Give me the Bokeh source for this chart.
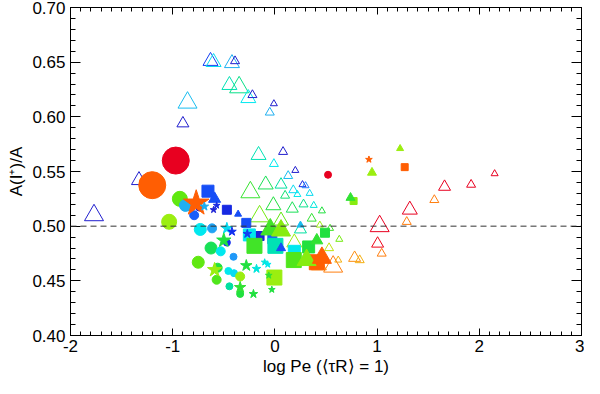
import numpy as np
from bokeh.plotting import figure
from bokeh.models import (ColumnDataSource, LinearAxis, FixedTicker, Span,
                          LinearColorMapper, Range1d, NumeralTickFormatter, CustomLabelingPolicy)
from bokeh.transform import transform
from bokeh.embed import file_html
from bokeh.resources import INLINE

# ---------------- data (log Pe, A(I+)/A, colour parameter, size class) ----------------
open_tri_x = [-1.77, -1.33, -0.90, -0.855, -0.63, -0.60, -0.42, -0.39, -0.445, -0.35, -0.26, -0.22,
              -0.01, -0.05, -0.16, 0.08, -0.01, 0.20, 0.13, 0.27, 0.30, 0.18, 0.22, 0.34, -0.24,
              -0.09, 0.06, 0.10, -0.015, 0.17, 0.28, 0.38, 0.46, 0.36, -0.15, 0.06, 0.44, 0.54,
              0.25, 0.63, 0.19, 0.53, 0.62, 0.57, 0.43, 0.78, 0.83, 1.025, 1.005, 1.045, 1.32,
              1.29, 1.56, 1.66, 1.92, 2.15]
open_tri_y = [0.510, 0.542, 0.594, 0.613, 0.651, 0.650, 0.649, 0.651, 0.629, 0.627, 0.617, 0.620,
              0.612, 0.604, 0.565, 0.568, 0.557, 0.551, 0.546, 0.538, 0.537, 0.533, 0.529, 0.530,
              0.531, 0.538, 0.538, 0.528, 0.519, 0.516, 0.520, 0.519, 0.514, 0.507, 0.509, 0.505,
              0.501, 0.498, 0.497, 0.488, 0.485, 0.480, 0.469, 0.463, 0.464, 0.471, 0.469, 0.500,
              0.484, 0.475, 0.515, 0.504, 0.524, 0.536, 0.538, 0.548]
open_tri_c = [0.05, 0.05, 0.05, 0.30, 0.12, 0.34, 0.28, 0.05, 0.42, 0.46, 0.36, 0.05,
              0.05, 0.28, 0.42, 0.05, 0.36, 0.05, 0.30, 0.08, 0.20, 0.34, 0.36, 0.34, 0.55,
              0.50, 0.44, 0.48, 0.52, 0.50, 0.46, 0.38, 0.52, 0.54, 0.62, 0.60, 0.66, 0.56,
              0.44, 0.62, 0.66, 0.70, 0.80, 0.86, 0.84, 0.84, 0.80, 1.00, 0.99, 0.86, 1.00,
              0.86, 0.86, 1.00, 1.00, 1.00]
open_tri_s = [5, 4, 3, 5, 4, 4, 4, 2, 4, 5, 4, 2,
              1, 2, 4, 2, 2, 1, 2, 1, 1, 2, 1, 1, 5,
              4, 3, 2, 4, 3, 2, 1, 1, 2, 5, 4, 1, 1,
              3, 1, 4, 2, 1, 5, 4, 3, 2, 5, 3, 2, 4,
              2, 2, 3, 2, 1]

circ_x = [-0.97, -1.20, -0.93, -1.035, -0.875, -0.79, -0.74, -0.73, -0.615, -0.625, -0.53,
          -0.405, -0.75, -0.56, -0.455, -0.40, -0.57, -0.34, -0.445, -0.34, -0.47, 0.52]
circ_y = [0.560, 0.5375, 0.525, 0.504, 0.519, 0.510, 0.517, 0.497, 0.498, 0.480, 0.477,
          0.472, 0.467, 0.462, 0.459, 0.457, 0.451, 0.454, 0.445, 0.438, 0.485, 0.547]
circ_c = [1.00, 0.90, 0.60, 0.66, 0.28, 0.16, 0.06, 0.36, 0.26, 0.50, 0.36,
          0.24, 0.60, 0.52, 0.36, 0.34, 0.58, 0.66, 0.44, 0.52, 0.10, 1.00]
circ_s = [6, 6, 4, 4, 3, 2, 1, 3, 2, 3, 2, 1, 3, 2, 1, 1, 2, 2, 1, 1, 1, 1]

sq_x = [-0.655, -0.47, -0.28, -0.15, -0.25, -0.20, -0.025, 0.005, 0.19, 0.185, -0.005,
        0.33, 0.49, 0.41, 1.27, 0.77]
sq_y = [0.532, 0.515, 0.503, 0.491, 0.492, 0.482, 0.488, 0.482, 0.477, 0.469, 0.453,
        0.481, 0.494, 0.467, 0.554, 0.523]
sq_c = [0.14, 0.08, 0.14, 0.06, 0.36, 0.56, 0.16, 0.42, 0.36, 0.58, 0.66,
        0.52, 0.52, 0.90, 0.90, 0.64]
sq_s = [3, 2, 2, 2, 3, 4, 2, 4, 3, 4, 4, 3, 2, 4, 1, 1]

tri_x = [-0.59, -0.36, -0.045, 0.06, 0.06, 0.31, 0.46, 0.41, 0.25, 0.74, 0.95, 1.225]
tri_y = [0.525, 0.511, 0.497, 0.496, 0.480, 0.469, 0.471, 0.487, 0.501, 0.526, 0.549, 0.571]
tri_c = [0.14, 0.14, 0.56, 0.64, 0.14, 0.64, 0.90, 0.54, 0.30, 0.54, 0.66, 0.66]
tri_s = [3, 1, 5, 5, 2, 5, 5, 3, 1, 2, 2, 1]

star_x = [-0.77, -0.69, -0.60, -0.57, -0.47, -0.42, -0.50, -0.59, -0.28, -0.18, -0.10,
          -0.07, -0.34, -0.21, -0.06, -0.03, -0.27, 0.92]
star_y = [0.521, 0.518, 0.515, 0.519, 0.498, 0.495, 0.487, 0.460, 0.464, 0.461, 0.467,
          0.465, 0.444, 0.438, 0.455, 0.442, 0.493, 0.561]
star_c = [0.90, 0.28, 0.06, 0.08, 0.34, 0.10, 0.52, 0.66, 0.52, 0.38, 0.38,
          0.36, 0.54, 0.52, 0.54, 0.52, 0.12, 0.90]
star_s = [6, 2, 1, 1, 3, 2, 4, 4, 3, 2, 1, 1, 3, 2, 1, 1, 2, 1]

X_TICKS = [-2, -1, 0, 1, 2, 3]
Y_TICKS = [0.40, 0.45, 0.50, 0.55, 0.60, 0.65, 0.70]
REF_LEVEL = 0.50
X_TITLE = "log Pe (\u27e8\u03c4R\u27e9 = 1)"
Y_TITLE = "A(I\u207a)/A"

# ---------------- styling ----------------
SIZE_PX = {1: 7, 2: 9, 3: 12, 4: 15, 5: 19, 6: 27}
FONT = "Liberation Sans"

anchors = [(0.00, (0x30, 0x10, 0xb0)), (0.10, (0x10, 0x30, 0xf0)), (0.20, (0x20, 0x80, 0xff)),
           (0.28, (0x20, 0xb0, 0xf0)), (0.36, (0x00, 0xe8, 0xf0)), (0.44, (0x00, 0xe0, 0xa0)),
           (0.52, (0x20, 0xe0, 0x40)), (0.60, (0x60, 0xe8, 0x10)), (0.68, (0xb0, 0xf0, 0x10)),
           (0.78, (0xf0, 0xc0, 0x10)), (0.86, (0xff, 0x80, 0x10)), (0.91, (0xff, 0x58, 0x00)),
           (0.97, (0xff, 0x10, 0x00)), (1.00, (0xe8, 0x00, 0x20))]
pos = np.array([a[0] for a in anchors])
rgb = np.array([a[1] for a in anchors], dtype=float)
palette = []
for g in np.linspace(0, 1, 256):
    r = int(round(np.interp(g, pos, rgb[:, 0])))
    gg = int(round(np.interp(g, pos, rgb[:, 1])))
    b = int(round(np.interp(g, pos, rgb[:, 2])))
    palette.append("#%02x%02x%02x" % (r, gg, b))
mapper = LinearColorMapper(palette=palette, low=0.0, high=1.0)


def src(x, y, c, s):
    return ColumnDataSource(dict(x=x, y=y, c=c, size=[SIZE_PX[k] for k in s]))


p = figure(width=584, height=378, x_range=Range1d(-2, 3), y_range=Range1d(0.40, 0.70),
           output_backend="svg", toolbar_location=None,
           min_border_left=70, min_border_right=3, min_border_top=7, min_border_bottom=40,
           background_fill_color="white", border_fill_color="white")
p.grid.visible = False
p.outline_line_color = "black"

xt = FixedTicker(ticks=X_TICKS, minor_ticks=[round(v, 2) for v in np.arange(-2, 3.0001, 0.1)])
yt = FixedTicker(ticks=Y_TICKS, minor_ticks=[round(v, 3) for v in np.arange(0.40, 0.7001, 0.01)])

p.xaxis.ticker = xt
p.yaxis.ticker = yt
p.xaxis.formatter = NumeralTickFormatter(format="0")
p.yaxis.formatter = NumeralTickFormatter(format="0.00")

for ax, maj, mnr in ((p.xaxis[0], 7, 4), (p.yaxis[0], 10, 5)):
    ax.major_tick_in = maj
    ax.major_tick_out = 0
    ax.minor_tick_in = mnr
    ax.minor_tick_out = 0
    ax.axis_line_color = "black"
    ax.major_tick_line_color = "black"
    ax.minor_tick_line_color = "black"
    ax.major_label_text_font = FONT
    ax.major_label_text_font_size = "17px"
    ax.major_label_text_color = "black"
    ax.axis_label_text_font = FONT
    ax.axis_label_text_font_size = "17px"
    ax.axis_label_text_font_style = "normal"
    ax.axis_label_text_color = "black"

p.xaxis.major_label_standoff = 4
p.xaxis.axis_label_standoff = 2
p.yaxis.major_label_standoff = 5
p.yaxis.axis_label_standoff = 3
p.xaxis.axis_label = X_TITLE
p.yaxis.axis_label = Y_TITLE

no_labels = "for (const i of indices) indices.unset(i)"
top = LinearAxis(ticker=xt, major_label_text_font_size="0px", major_label_standoff=0,
                 major_label_policy=CustomLabelingPolicy(code=no_labels),
                 major_tick_in=7, major_tick_out=0, minor_tick_in=4, minor_tick_out=0)
right = LinearAxis(ticker=yt, major_label_text_font_size="0px", major_label_standoff=0,
                   major_label_policy=CustomLabelingPolicy(code=no_labels),
                   major_tick_in=10, major_tick_out=0, minor_tick_in=5, minor_tick_out=0)
p.add_layout(top, "above")
p.add_layout(right, "right")

p.add_layout(Span(location=REF_LEVEL, dimension="width", line_color="#333333",
                  line_dash="6 4", line_width=1))

# hollow triangles
p.scatter("x", "y", source=src(open_tri_x, open_tri_y, open_tri_c, open_tri_s), marker="triangle",
          size="size", fill_color=None, line_color=transform("c", mapper), line_width=1)
# filled markers
for (xs, ys, cs, ss, mk) in ((circ_x, circ_y, circ_c, circ_s, "circle"),
                             (sq_x, sq_y, sq_c, sq_s, "square"),
                             (tri_x, tri_y, tri_c, tri_s, "triangle"),
                             (star_x, star_y, star_c, star_s, "star")):
    p.scatter("x", "y", source=src(xs, ys, cs, ss), marker=mk, size="size",
              fill_color=transform("c", mapper), line_color=transform("c", mapper), line_width=1)

open("out.html", "w").write(file_html(p, INLINE))
